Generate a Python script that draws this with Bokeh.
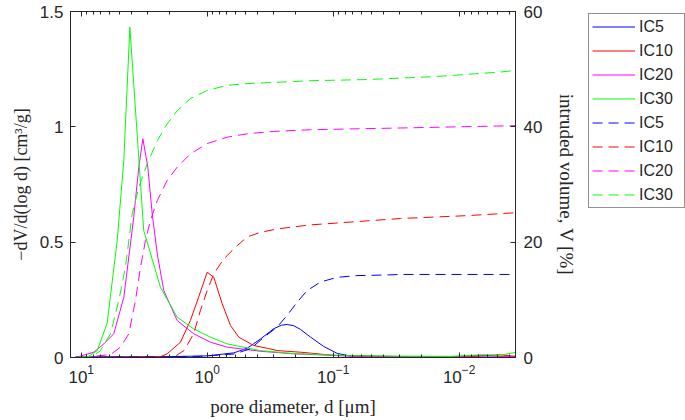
from bokeh.plotting import figure
from bokeh.layouts import row
from bokeh.models import (Range1d, LinearAxis, LogAxis, LogTicker, FixedTicker,
                          Legend, LegendItem)
from bokeh.embed import file_html
from bokeh.resources import INLINE

# ---- data: pore diameter d [um], dV/dlog d [cm3/g] (solid) ----
d_ic5_s = [11.1, 2.35, 1.0, 0.615, 0.482, 0.378, 0.296, 0.257, 0.232, 0.206,
           0.182, 0.151, 0.119, 0.0929, 0.0729, 0.0292, 0.00357]
v_ic5_s = [0.003, 0.003, 0.007, 0.02, 0.04, 0.08, 0.125, 0.14, 0.143, 0.138,
           0.122, 0.088, 0.048, 0.018, 0.006, 0.002, 0.002]

d_ic10_s = [11.1, 2.35, 2.08, 1.63, 1.36, 1.17, 1.0, 0.887, 0.760, 0.653, 0.561,
            0.427, 0.334, 0.278, 0.182, 0.151, 0.0993, 0.0292, 0.00865, 0.0047, 0.00357]
v_ic10_s = [0.0, 0.003, 0.016, 0.066, 0.16, 0.261, 0.37, 0.348, 0.233, 0.139, 0.088,
            0.052, 0.04, 0.03, 0.023, 0.019, 0.009, 0.004, 0.003, 0.012, 0.004]

d_ic20_s = [11.1, 7.94, 6.62, 5.51, 4.59, 3.83, 3.49, 3.24, 2.96, 2.73, 2.49, 2.21,
            1.73, 1.28, 0.94, 0.694, 0.378, 0.206, 0.0729, 0.0292, 0.0117, 0.0065,
            0.0047, 0.00357]
v_ic20_s = [0.0, 0.023, 0.059, 0.103, 0.261, 0.608, 0.825, 0.948, 0.825, 0.623, 0.449,
            0.29, 0.160, 0.103, 0.066, 0.045, 0.027, 0.016, 0.006, 0.004, 0.003, 0.01,
            0.004, 0.006]

d_ic30_s = [11.1, 8.75, 7.46, 6.22, 5.18, 4.59, 4.11, 3.19, 2.35, 1.73, 1.28, 0.94,
            0.694, 0.378, 0.206, 0.0729, 0.0292, 0.0117, 0.0065, 0.0047, 0.00357]
v_ic30_s = [0.0, 0.005, 0.03, 0.149, 0.507, 0.854, 1.432, 0.551, 0.305, 0.175, 0.124,
            0.088, 0.059, 0.030, 0.017, 0.008, 0.006, 0.005, 0.012, 0.01, 0.022]

# ---- data: intruded volume V [%] (dashed) ----
d_ic5_c = [10.1, 1.13, 0.615, 0.453, 0.355, 0.278, 0.232, 0.193, 0.161, 0.126,
           0.0929, 0.0646, 0.0396, 0.0292, 0.00357]
v_ic5_c = [0.0, 0.2, 0.6, 1.5, 3.5, 5.3, 7.3, 9.6, 11.6, 13.1, 13.9, 14.2, 14.3,
           14.4, 14.4]

d_ic10_c = [10.1, 1.84, 1.53, 1.28, 1.13, 1.0, 0.887, 0.738, 0.578, 0.482, 0.378,
            0.278, 0.151, 0.0292, 0.00865, 0.00357]
v_ic10_c = [0.0, 0.05, 1.2, 4.1, 8.2, 11.6, 14.5, 17.1, 19.4, 20.9, 21.7, 22.3,
            23.0, 24.1, 24.6, 25.1]

d_ic20_c = [10.1, 5.85, 4.88, 4.19, 3.71, 3.38, 3.09, 2.82, 2.49, 2.08, 1.73, 1.36,
            1.0, 0.694, 0.482, 0.296, 0.151, 0.0292, 0.00357]
v_ic20_c = [0.0, 0.5, 1.8, 4.1, 9.9, 15.7, 20.3, 23.8, 27.2, 30.7, 33.0, 35.3, 37.1,
            38.2, 38.8, 39.2, 39.5, 39.8, 40.2]

d_ic30_c = [10.1, 7.94, 7.03, 5.85, 5.03, 4.45, 3.94, 3.49, 2.99, 2.49, 2.08, 1.73,
            1.36, 1.0, 0.694, 0.482, 0.296, 0.151, 0.0537, 0.0159, 0.0047, 0.00357]
v_ic30_c = [0.0, 0.3, 1.2, 4.1, 9.9, 15.7, 24.9, 29.5, 33.6, 37.6, 40.5, 42.8, 44.9,
            46.3, 47.2, 47.5, 47.7, 48.0, 48.2, 48.7, 49.5, 49.8]

labels = ["IC5", "IC10", "IC20", "IC30"]
colors = ["#0000ff", "#ff0000", "#ff00ff", "#00ff00"]
left_ticks = [0, 0.5, 1, 1.5]
right_ticks = [0, 20, 40, 60]

TXT = "#262626"
SANS = "Liberation Sans"
SERIF = "Liberation Serif"

p = figure(width=580, height=420, output_backend="svg", toolbar_location=None,
           x_axis_type="log", x_range=Range1d(12.16, 0.00357),
           y_range=Range1d(0, 1.5),
           min_border_left=70, min_border_right=65, min_border_top=11,
           min_border_bottom=63)
p.extra_y_ranges = {"vol": Range1d(0, 60)}
p.xgrid.visible = False
p.ygrid.visible = False
p.outline_line_color = TXT
p.outline_line_alpha = 1
p.background_fill_color = "white"
p.border_fill_color = "white"

def style_axis(ax, minor=True):
    ax.axis_line_color = TXT
    ax.major_tick_line_color = TXT
    ax.major_tick_in = 5
    ax.major_tick_out = 0
    if minor:
        ax.minor_tick_line_color = TXT
        ax.minor_tick_in = 3
        ax.minor_tick_out = 0
    else:
        ax.minor_tick_line_color = None
    ax.major_label_text_font = SANS
    ax.major_label_text_font_size = "17px"
    ax.major_label_text_color = TXT
    ax.axis_label_text_font = SERIF
    ax.axis_label_text_font_size = "19px"
    ax.axis_label_text_font_style = "normal"
    ax.axis_label_text_color = TXT

# bottom log axis
xax = p.xaxis[0]
xax.ticker = LogTicker(num_minor_ticks=10)
style_axis(xax)
xax.major_label_standoff = 7
xax.axis_label = "pore diameter, d [μm]"
xax.axis_label_standoff = 10

# top axis (ticks only)
top = LogAxis(ticker=LogTicker(num_minor_ticks=10))
style_axis(top)
top.major_label_text_font_size = "1px"
top.major_label_text_color = None
top.major_label_standoff = 0
p.add_layout(top, "above")

# left axis
yax = p.yaxis[0]
yax.ticker = FixedTicker(ticks=left_ticks)
yax.major_label_overrides = {t: str(t) for t in left_ticks}
style_axis(yax, minor=False)
yax.major_label_standoff = 7
yax.axis_label = "−dV/d(log d) [cm³/g]"
yax.axis_label_text_font_size = "18px"
yax.axis_label_standoff = 6

# right axis
rax = LinearAxis(y_range_name="vol", ticker=FixedTicker(ticks=right_ticks))
style_axis(rax, minor=False)
rax.major_label_standoff = 8
rax.axis_label = "intruded volume, V [%]"
rax.axis_label_standoff = 11
p.add_layout(rax, "right")

solid_d = [d_ic5_s, d_ic10_s, d_ic20_s, d_ic30_s]
solid_v = [v_ic5_s, v_ic10_s, v_ic20_s, v_ic30_s]
cum_d = [d_ic5_c, d_ic10_c, d_ic20_c, d_ic30_c]
cum_v = [v_ic5_c, v_ic10_c, v_ic20_c, v_ic30_c]

for dd, vv, c in zip(solid_d, solid_v, colors):
    p.line(dd, vv, line_color=c, line_width=1)
for dd, vv, c in zip(cum_d, cum_v, colors):
    p.line(dd, vv, line_color=c, line_width=1, line_dash="10 6",
           y_range_name="vol")

# ---- legend panel (separate figure to the right) ----
q = figure(width=99, height=420, output_backend="svg", toolbar_location=None,
           x_axis_location=None, y_axis_location=None, min_border=0,
           title=None, x_range=Range1d(0, 1), y_range=Range1d(0, 1))
q.grid.visible = False
q.outline_line_color = None
q.background_fill_color = "white"
q.border_fill_color = "white"

NAN = float("nan")
items = []
for c, lab in zip(colors, labels):
    r = q.line([NAN], [NAN], line_color=c, line_width=1)
    items.append(LegendItem(label=lab, renderers=[r]))
for c, lab in zip(colors, labels):
    r = q.line([NAN], [NAN], line_color=c, line_width=1, line_dash="10 6")
    items.append(LegendItem(label=lab, renderers=[r]))

legend = Legend(items=items, location="top_left")
legend.label_text_font = SANS
legend.label_text_font_size = "16px"
legend.label_text_color = TXT
legend.border_line_color = TXT
legend.border_line_width = 1
legend.glyph_width = 43
legend.glyph_height = 19
legend.label_height = 19
legend.label_width = 42
legend.spacing = 5
legend.padding = 3
legend.margin = 2
legend.label_standoff = 4
q.add_layout(legend, "center")

layout = row(p, q, spacing=6)
open("out.html", "w").write(file_html(layout, INLINE))
